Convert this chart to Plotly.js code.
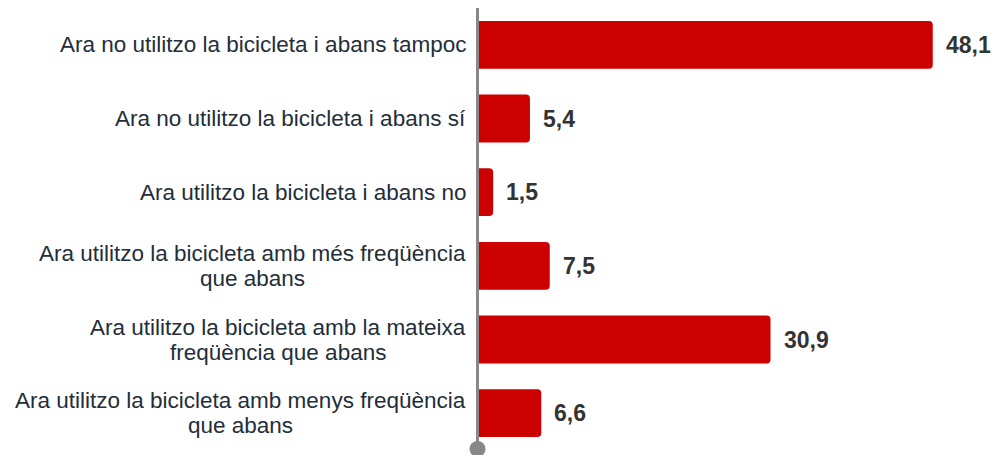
<!DOCTYPE html>
<html>
<head>
<meta charset="utf-8">
<script src="https://cdn.plot.ly/plotly-3.0.1.min.js"></script>
<style>html,body{margin:0;padding:0;background:#fff;}#chart{width:994px;height:455px;}</style>
</head>
<body>
<div id="chart"></div>
<script>
var categories = [
  "Ara no utilitzo la bicicleta i abans tampoc",
  "Ara no utilitzo la bicicleta i abans sí",
  "Ara utilitzo la bicicleta i abans no",
  "Ara utilitzo la bicicleta amb més freqüència<br>que abans",
  "Ara utilitzo la bicicleta amb la mateixa<br>freqüència que abans",
  "Ara utilitzo la bicicleta amb menys freqüència<br>que abans"
];
var values = [48.1, 5.4, 1.5, 7.5, 30.9, 6.6];

var idx = categories.map(function(_, i){ return i; });
var labelSize = 22.5;
var fam = 'Arial, "Liberation Sans", sans-serif';
var ctx = document.createElement('canvas').getContext('2d');
ctx.font = labelSize + 'px ' + fam;

var annotations = [];
categories.forEach(function(lab, i){
  var lines = lab.split('<br>');
  var lh = 25;
  var maxW = Math.max.apply(null, lines.map(function(l){ return ctx.measureText(l).width; }));
  lines.forEach(function(line, j){
    annotations.push({
      xref: 'paper', x: 0, xanchor: 'center', xshift: -13 - maxW / 2,
      yref: 'y', y: i, yanchor: 'middle',
      yshift: ((lines.length - 1) / 2 - j) * lh,
      text: line, showarrow: false, align: 'center',
      font: {family: fam, size: labelSize, color: '#222e3a'}
    });
  });
  annotations.push({
    xref: 'x', x: values[i], xanchor: 'left', xshift: 11,
    yref: 'y', y: i, yanchor: 'middle',
    text: '<b>' + values[i].toFixed(1).replace('.', ',') + '</b>',
    showarrow: false,
    font: {family: fam, size: 23, color: '#333333'}
  });
});

var data = [{
  type: 'bar',
  orientation: 'h',
  x: values,
  y: idx,
  marker: {color: '#cc0000', cornerradius: 4},
  hoverinfo: 'none'
}];

var layout = {
  width: 994, height: 455,
  margin: {l: 479, r: 15, t: 8, b: 5},
  paper_bgcolor: '#ffffff', plot_bgcolor: '#ffffff',
  bargap: 0.35,
  showlegend: false,
  xaxis: {range: [0, 53], showgrid: false, zeroline: false, showticklabels: false, showline: false, fixedrange: true},
  yaxis: {range: [5.5, -0.5], showgrid: false, zeroline: false, showticklabels: false,
          showline: true, linecolor: '#888888', linewidth: 3, fixedrange: true},
  annotations: annotations,
  shapes: [{
    type: 'circle', layer: 'above',
    xref: 'paper', xsizemode: 'pixel', xanchor: 0, x0: -9.5, x1: 6.5,
    yref: 'paper', ysizemode: 'pixel', yanchor: 0, y0: -7, y1: 9,
    fillcolor: '#888888', line: {width: 0}
  }]
};

Plotly.newPlot('chart', data, layout, {staticPlot: true, displayModeBar: false});
</script>
</body>
</html>
